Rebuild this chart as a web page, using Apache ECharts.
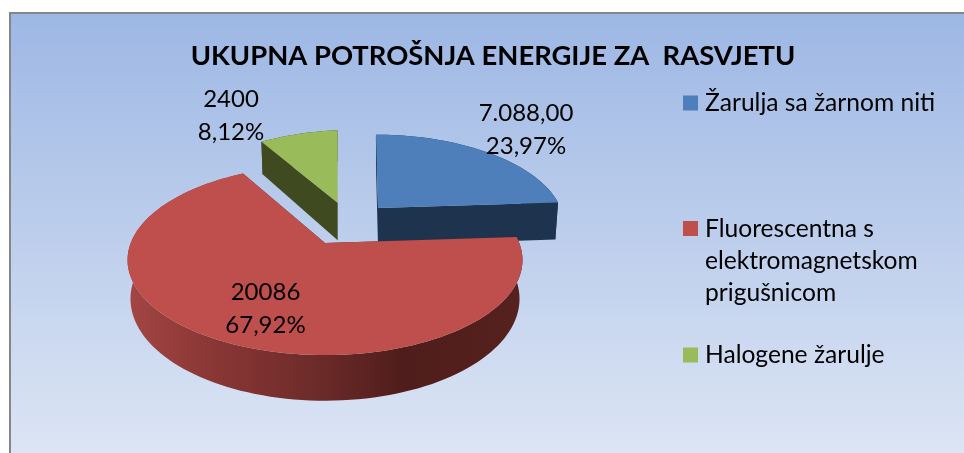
<!DOCTYPE html>
<html>
<head>
<meta charset="utf-8">
<style>html,body{margin:0;padding:0;background:#fff}#c{width:964px;height:453px}</style>
<script src="https://cdn.jsdelivr.net/npm/echarts@6/dist/echarts.min.js"></script>
</head>
<body>
<div id="c"></div>
<script>
// DATA
var categories = ['Žarulja sa žarnom niti', 'Fluorescentna s\nelektromagnetskom\nprigušnicom', 'Halogene žarulje'];
var values = [7088, 20086, 2400];
var valueLabels = ['7.088,00', '20086', '2400'];
var percentLabels = ['23,97%', '67,92%', '8,12%'];
var chartTitle = 'UKUPNA POTROŠNJA ENERGIJE ZA  RASVJETU';

// STYLE / LAYOUT
var FONT = 'Lato, "Open Sans", sans-serif';
var topColors = ['#4E7FBB', '#BE4F4C', '#9ABB59'];
var cutColors = ['#1E344E', '#4F1D1B', '#404A21'];
var drawOrder = [0, 2, 1];
var RX = 194.3, RY = 92, PERSP = 0.179, DEPTH = 37.5, BOTTOM_SHRINK = 0.985;
var sliceLayout = [
  {ax: 378, ay: 208, k: 0.94, skew: 2.4, tilt: 0, lx: 526, ly: 129.5},
  {ax: 325, ay: 243, k: 1, skew: 0, tilt: 0, lx: 265.5, ly: 308.5},
  {ax: 337.7, ay: 202.7, k: 0.93, skew: 0, tilt: -8.5, lx: 231, ly: 116}
];
var total = values.reduce(function (a, b) { return a + b; }, 0);
var starts = [];
values.reduce(function (acc, v, i) { starts[i] = acc; return acc + v; }, 0);

function topPt(L, X, Y) {
  var w = 1 - PERSP * Y;
  return [L.ax + (L.k * RX * X + L.skew * Y) / w, L.ay + (L.k * RY * Y + L.tilt * X) / w, w];
}
function bottomPt(L, X, Y) {
  var p = topPt(L, X, Y);
  return [L.ax + BOTTOM_SHRINK * (p[0] - L.ax), p[1] + DEPTH / p[2]];
}
function arc(fn, L, a0, a1) {
  var pts = [], n = Math.max(2, Math.ceil(Math.abs(a1 - a0) / 2));
  for (var i = 0; i <= n; i++) {
    var t = (a0 + (a1 - a0) * i / n) * Math.PI / 180;
    pts.push(fn(L, Math.sin(t), -Math.cos(t)));
  }
  return pts;
}
var redWall = new echarts.graphic.LinearGradient(0, 0, 1, 0, [
  {offset: 0, color: '#A34644'}, {offset: 0.21, color: '#8A3735'},
  {offset: 0.46, color: '#6F2C2A'}, {offset: 0.70, color: '#4F1D1B'}, {offset: 1, color: '#56211F'}
]);
function poly(points, fill) {
  return {type: 'polygon', shape: {points: points}, style: {fill: fill, stroke: null}};
}
function makeRender(i) {
  return function () {
    var L = sliceLayout[i];
    var a0 = starts[i] / total * 360, a1 = (starts[i] + values[i]) / total * 360;
    var topArc = arc(topPt, L, a0, a1), botArc = arc(bottomPt, L, a0, a1);
    var apexT = topPt(L, 0, 0), apexB = bottomPt(L, 0, 0);
    var tS = topArc[0], tE = topArc[topArc.length - 1];
    var bS = botArc[0], bE = botArc[botArc.length - 1];
    var wallFill = i === 1 ? redWall : cutColors[i];
    return {type: 'group', children: [
      poly(topArc.concat(botArc.slice().reverse()), wallFill),
      poly([apexT, tS, bS, apexB], cutColors[i]),
      poly([apexT, tE, bE, apexB], cutColors[i]),
      poly([apexT].concat(topArc), topColors[i]),
      {type: 'text', z2: 10, style: {
        x: L.lx, y: L.ly, text: valueLabels[i] + '\n' + percentLabels[i],
        fill: '#000', font: '24px ' + FONT, align: 'center', verticalAlign: 'middle', lineHeight: 33
      }}
    ]};
  };
}
var legendLayout = [
  {top: 87, h: 32, icon: 'path://M0 8.5H15V23.5H0Z M0 0L0 0 M0 32L0 32'},
  {top: 213, h: 96, icon: 'path://M0 8H15V23H0Z M0 0L0 0 M0 96L0 96'},
  {top: 339, h: 32, icon: 'path://M0 8.5H15V23.5H0Z M0 0L0 0 M0 32L0 32'}
];
var chart = echarts.init(document.getElementById('c'), null, {renderer: 'canvas'});
chart.setOption({
  animation: false,
  backgroundColor: '#fff',
  title: {
    text: chartTitle, left: 488, top: 38, textAlign: 'center',
    textStyle: {fontFamily: FONT, fontWeight: 'bold', fontSize: 27.4, color: '#000'}
  },
  legend: categories.map(function (name, i) {
    return {
      data: [name], left: 683, top: legendLayout[i].top, padding: 0, orient: 'vertical',
      selectedMode: false, itemWidth: 15, itemHeight: legendLayout[i].h,
      icon: legendLayout[i].icon,
      textStyle: {fontFamily: FONT, fontSize: 24.6, lineHeight: 32, color: '#000', padding: [0, 0, 0, 2]}
    };
  }),
  graphic: [{
    type: 'rect', z: -10, silent: true,
    shape: {x: 10, y: 13, width: 970, height: 460},
    style: {
      fill: new echarts.graphic.LinearGradient(0, 0, 0, 1, [
        {offset: 0, color: '#9DB7E4'}, {offset: 1, color: '#DFE7F5'}
      ]),
      stroke: '#868686', lineWidth: 2
    }
  }],
  series: drawOrder.map(function (i) {
    return {
      type: 'custom', name: categories[i], coordinateSystem: 'none', silent: true,
      itemStyle: {color: topColors[i]},
      data: [[values[i]]], renderItem: makeRender(i)
    };
  })
});
</script>
</body>
</html>
